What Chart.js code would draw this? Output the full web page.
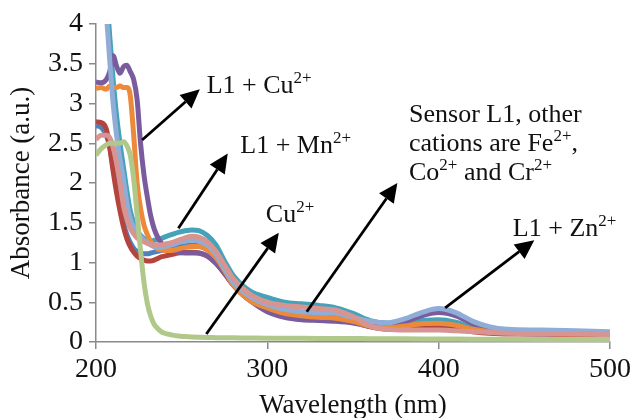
<!DOCTYPE html>
<html>
<head>
<meta charset="utf-8">
<script src="https://cdn.jsdelivr.net/npm/chart.js@4.4.1/dist/chart.umd.min.js"></script>
<style>
  html, body { margin: 0; padding: 0; background: #fff; }
  #wrap { width: 635px; height: 418px; }
</style>
</head>
<body>
<div id="wrap"><canvas id="uvChart"></canvas></div>
<script>
// wavelengths (nm) shared by all spectra
const wavelength = [200, 203, 206, 208, 210, 212, 214, 216, 218, 220, 222, 224, 226, 228, 230, 232, 234, 236, 238, 240,
  244, 248, 252, 256, 260, 265, 270, 275, 280, 290, 300, 310, 320, 330, 340, 350, 360, 370, 380, 390, 400, 410, 420, 430, 440, 460, 480, 500];

const teal = [6.2, 5.3, 4.45, 3.85, 3.3, 2.85, 2.5, 2.2, 1.9, 1.65, 1.5, 1.4, 1.34, 1.3, 1.28, 1.27, 1.28, 1.29, 1.3, 1.32,
  1.35, 1.38, 1.4, 1.41, 1.4, 1.34, 1.22, 1.02, 0.84, 0.64, 0.56, 0.5, 0.48, 0.46, 0.43, 0.36, 0.27, 0.24, 0.25, 0.27, 0.28, 0.25, 0.18, 0.15, 0.14, 0.13, 0.12, 0.11];
const blue = [2.72, 2.7, 2.6, 2.45, 2.2, 1.93, 1.7, 1.5, 1.35, 1.25, 1.18, 1.14, 1.12, 1.11, 1.11, 1.12, 1.13, 1.14, 1.15, 1.16,
  1.18, 1.2, 1.21, 1.22, 1.21, 1.16, 1.06, 0.9, 0.74, 0.55, 0.45, 0.38, 0.35, 0.34, 0.33, 0.27, 0.2, 0.18, 0.19, 0.21, 0.22, 0.2, 0.15, 0.12, 0.11, 0.1, 0.1, 0.09];
const red = [2.77, 2.76, 2.68, 2.45, 2.15, 1.88, 1.65, 1.45, 1.3, 1.2, 1.13, 1.08, 1.05, 1.03, 1.02, 1.02, 1.03, 1.05, 1.07, 1.08,
  1.1, 1.12, 1.13, 1.13, 1.12, 1.08, 0.99, 0.86, 0.72, 0.52, 0.43, 0.38, 0.36, 0.35, 0.33, 0.26, 0.19, 0.16, 0.16, 0.17, 0.17, 0.16, 0.13, 0.11, 0.1, 0.1, 0.09, 0.09];
const purple = [3.27, 3.26, 3.3, 3.4, 3.6, 3.47, 3.38, 3.46, 3.48, 3.4, 3.3, 3.05, 2.5, 2.1, 1.82, 1.58, 1.42, 1.32, 1.25, 1.2,
  1.16, 1.13, 1.12, 1.12, 1.12, 1.08, 0.99, 0.87, 0.72, 0.52, 0.38, 0.31, 0.28, 0.27, 0.26, 0.24, 0.2, 0.2, 0.25, 0.33, 0.37, 0.33, 0.23, 0.16, 0.14, 0.12, 0.11, 0.1];
const orange = [3.19, 3.2, 3.18, 3.22, 3.2, 3.2, 3.22, 3.2, 3.2, 3.1, 2.6, 2.0, 1.68, 1.47, 1.35, 1.26, 1.2, 1.17, 1.16, 1.15,
  1.15, 1.17, 1.19, 1.2, 1.2, 1.16, 1.06, 0.9, 0.72, 0.52, 0.43, 0.36, 0.33, 0.31, 0.3, 0.26, 0.2, 0.18, 0.2, 0.23, 0.235, 0.21, 0.16, 0.13, 0.12, 0.11, 0.1, 0.1];
const lightBlue = [5.9, 5.0, 4.15, 3.55, 3.0, 2.6, 2.3, 2.05, 1.75, 1.55, 1.44, 1.37, 1.32, 1.28, 1.25, 1.22, 1.2, 1.19, 1.19, 1.2,
  1.22, 1.25, 1.27, 1.28, 1.27, 1.22, 1.1, 0.92, 0.75, 0.57, 0.47, 0.41, 0.38, 0.37, 0.36, 0.31, 0.26, 0.24, 0.29, 0.37, 0.42, 0.37, 0.26, 0.19, 0.16, 0.15, 0.14, 0.13];
const pink = [2.55, 2.6, 2.6, 2.57, 2.45, 2.25, 2.0, 1.72, 1.55, 1.43, 1.36, 1.31, 1.28, 1.26, 1.24, 1.23, 1.22, 1.22, 1.22, 1.23,
  1.25, 1.28, 1.31, 1.33, 1.32, 1.26, 1.14, 0.97, 0.8, 0.6, 0.5, 0.46, 0.44, 0.42, 0.4, 0.32, 0.2, 0.16, 0.15, 0.15, 0.15, 0.14, 0.13, 0.12, 0.11, 0.1, 0.1, 0.09];
const green = [2.35, 2.43, 2.48, 2.5, 2.5, 2.5, 2.5, 2.52, 2.47, 2.35, 2.05, 1.6, 1.15, 0.75, 0.48, 0.32, 0.22, 0.17, 0.13, 0.11,
  0.09, 0.075, 0.068, 0.063, 0.06, 0.057, 0.055, 0.053, 0.052, 0.05, 0.048, 0.047, 0.046, 0.045, 0.044, 0.043, 0.042, 0.041, 0.04, 0.039, 0.038, 0.037, 0.036, 0.035, 0.034, 0.033, 0.032, 0.03];

const yTicks = [0, 0.5, 1, 1.5, 2, 2.5, 3, 3.5, 4];
const xTicks = [200, 300, 400, 500];

// annotations: text anchors and arrows in data units
const notes = [
  { x: 264.6, y: 3.13, lines: [[['L1 + Cu'], ['2+', 1]]] },
  { x: 284.2, y: 2.38, lines: [[['L1 + Mn'], ['2+', 1]]] },
  { x: 299.1, y: 1.51, lines: [[['Cu'], ['2+', 1]]] },
  { x: 382.7, y: 2.77, lines: [[['Sensor L1, other']], [['cations are Fe'], ['2+', 1], [',']], [['Co'], ['2+', 1], [' and Cr'], ['2+', 1]]] },
  { x: 443.3, y: 1.33, lines: [[['L1 + Zn'], ['2+', 1]]] }
];
const arrows = [
  [226.9, 2.54, 260.6, 3.18],
  [248.1, 1.43, 276.9, 2.37],
  [264.4, 0.10, 306.7, 1.375],
  [323.0, 0.38, 375.9, 2.0],
  [403.8, 0.43, 455.8, 1.28]
];

const font = '"Liberation Serif", "Times New Roman", serif';

const notesPlugin = {
  id: 'notes',
  afterDatasetsDraw(chart) {
    const ctx = chart.ctx;
    const xs = chart.scales.x, ys = chart.scales.y;
    ctx.save();
    ctx.strokeStyle = '#000';
    ctx.fillStyle = '#000';
    ctx.lineWidth = 2.8;
    arrows.forEach(a => {
      const x0 = xs.getPixelForValue(a[0]), y0 = ys.getPixelForValue(a[1]);
      const x1 = xs.getPixelForValue(a[2]), y1 = ys.getPixelForValue(a[3]);
      const ang = Math.atan2(y1 - y0, x1 - x0);
      const len = 19, half = 9;
      const bx = x1 - len * Math.cos(ang), by = y1 - len * Math.sin(ang);
      ctx.beginPath();
      ctx.moveTo(x0, y0);
      ctx.lineTo(bx, by);
      ctx.stroke();
      ctx.beginPath();
      ctx.moveTo(x1, y1);
      ctx.lineTo(bx + half * Math.sin(ang), by - half * Math.cos(ang));
      ctx.lineTo(bx - half * Math.sin(ang), by + half * Math.cos(ang));
      ctx.closePath();
      ctx.fill();
    });
    ctx.textBaseline = 'alphabetic';
    ctx.textAlign = 'left';
    ctx.fillStyle = '#111';
    notes.forEach(n => {
      const x = xs.getPixelForValue(n.x);
      let y = ys.getPixelForValue(n.y);
      n.lines.forEach(line => {
        let cx = x;
        line.forEach(seg => {
          const sup = seg[1] === 1;
          ctx.font = (sup ? '17px ' : '26px ') + font;
          ctx.fillText(seg[0], cx, sup ? y - 10 : y);
          cx += ctx.measureText(seg[0]).width;
        });
        y += 29;
      });
    });
    ctx.restore();
  }
};

function series(label, values, color, order) {
  return {
    label: label,
    data: wavelength.map((w, i) => ({ x: w, y: values[i] })),
    borderColor: color,
    backgroundColor: color,
    borderWidth: 5,
    pointRadius: 0,
    cubicInterpolationMode: 'monotone',
    order: order
  };
}

const axisColor = '#8a8a8a';

new Chart(document.getElementById('uvChart'), {
  type: 'line',
  data: {
    datasets: [
      series('L1 + Teal', teal, '#44a2b9', 8),
      series('L1 + Fe', blue, '#4f81bd', 7),
      series('L1 + Co', red, '#b5443f', 6),
      series('L1 + Cu2+', purple, '#7a5c9e', 5),
      series('L1 + Mn2+', orange, '#ec8a3a', 4),
      series('L1 + Zn2+', lightBlue, '#8fadd6', 3),
      series('L1', pink, '#d79490', 2),
      series('Cu2+', green, '#b0c98b', 1)
    ]
  },
  options: {
    responsive: true,
    maintainAspectRatio: false,
    animation: false,
    layout: { padding: { top: 24, right: 20, bottom: 0, left: 0 } },
    plugins: {
      legend: { display: false },
      tooltip: { enabled: false }
    },
    scales: {
      x: {
        type: 'linear',
        min: 200,
        max: 500,
        afterBuildTicks: s => { s.ticks = xTicks.map(v => ({ value: v })); },
        afterFit: s => { s.height = 76; },
        ticks: { color: '#111', font: { family: font, size: 28 }, padding: 4, maxRotation: 0, callback: v => String(v) },
        grid: { display: true, drawOnChartArea: false, drawTicks: true, tickLength: 7, color: axisColor, lineWidth: 1.5 },
        border: { display: true, color: axisColor, width: 1.5 },
        title: { display: true, text: 'Wavelength (nm)', color: '#111', font: { family: font, size: 27 }, padding: { top: 0, bottom: -4 } }
      },
      y: {
        min: 0,
        max: 4,
        afterBuildTicks: s => { s.ticks = yTicks.map(v => ({ value: v })); },
        afterFit: s => { s.width = 96; },
        ticks: { color: '#111', font: { family: font, size: 28 }, padding: 6, callback: v => String(v) },
        grid: { display: true, drawOnChartArea: false, drawTicks: true, tickLength: 7, color: axisColor, lineWidth: 1.5 },
        border: { display: true, color: axisColor, width: 1.5 },
        title: { display: true, text: 'Absorbance (a.u.)', color: '#111', font: { family: font, size: 27 }, padding: { top: 6, bottom: 0 } }
      }
    }
  },
  plugins: [notesPlugin]
});
</script>
</body>
</html>
